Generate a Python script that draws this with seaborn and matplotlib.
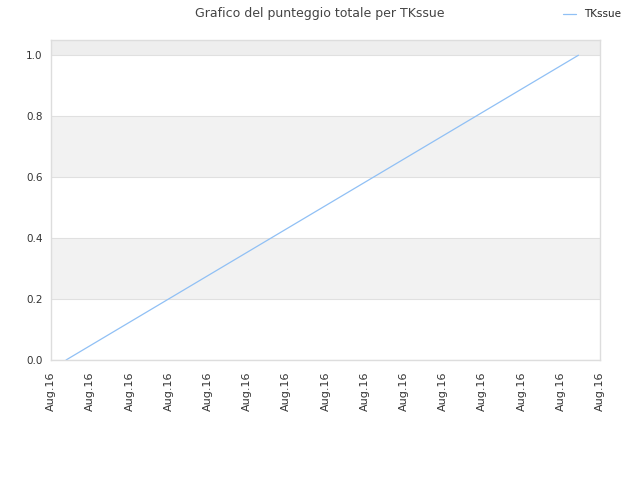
import matplotlib
matplotlib.use("Agg")
import matplotlib.pyplot as plt
import matplotlib.dates as mdates
import seaborn as sns
import pandas as pd

# data
times = pd.to_datetime(["2016-08-16 10:00:23", "2016-08-16 10:13:27"])
scores = [0.0, 1.0]
series_name = "TKssue"
title = "Grafico del punteggio totale per TKssue"
x_start = pd.Timestamp("2016-08-16 10:00:00")
x_end = pd.Timestamp("2016-08-16 10:14:00")
y_ticks = [0.0, 0.2, 0.4, 0.6, 0.8, 1.0]

sns.set_theme(style="white")
plt.rcParams['font.family'] = ['DejaVu Sans']

df = pd.DataFrame({"time": times, "score": scores, "serie": series_name})

fig = plt.figure(figsize=(6.4, 4.8), dpi=100)
ax = fig.add_axes([0.0797, 0.25, 0.8578, 0.6667])

# bands
for lo, hi in [(0.2, 0.4), (0.6, 0.8)]:
    ax.axhspan(lo, hi, color="#f2f2f2", zorder=0, lw=0)
ax.axhspan(1.0, 1.05, color="#eeeeee", zorder=0, lw=0)

sns.lineplot(data=df, x="time", y="score", hue="serie", palette=["#90c0f5"],
             linewidth=0.9, ax=ax, legend=True)

ax.set_ylim(0, 1.05)
ax.set_xlim(x_start, x_end)
ax.set_yticks(y_ticks)
ax.yaxis.set_major_formatter(matplotlib.ticker.FormatStrFormatter("%.1f"))
ax.xaxis.set_major_locator(mdates.MinuteLocator(interval=1))
ax.xaxis.set_major_formatter(mdates.DateFormatter("%b.%d"))
for lab in ax.get_xticklabels():
    lab.set_rotation(90)
ax.tick_params(axis="x", length=0, labelsize=8, colors="#333333", pad=8)
ax.tick_params(axis="y", length=0, labelsize=7.5, colors="#333333", pad=6)
ax.set_xlabel("")
ax.set_ylabel("")
ax.yaxis.grid(True, color="#e0e0e0", linewidth=0.8)
ax.set_axisbelow(True)
for s in ax.spines.values():
    s.set_color("#dddddd")
    s.set_linewidth(1)

handles, labels = ax.get_legend_handles_labels()
ax.legend_.remove()
fig.legend(handles, labels, loc="upper right", bbox_to_anchor=(0.985, 1.0),
           frameon=False, fontsize=7.5, handlelength=1.2)

fig.suptitle(title, fontsize=9, color="#444444", y=0.985)

fig.savefig("out.png", dpi=100)
